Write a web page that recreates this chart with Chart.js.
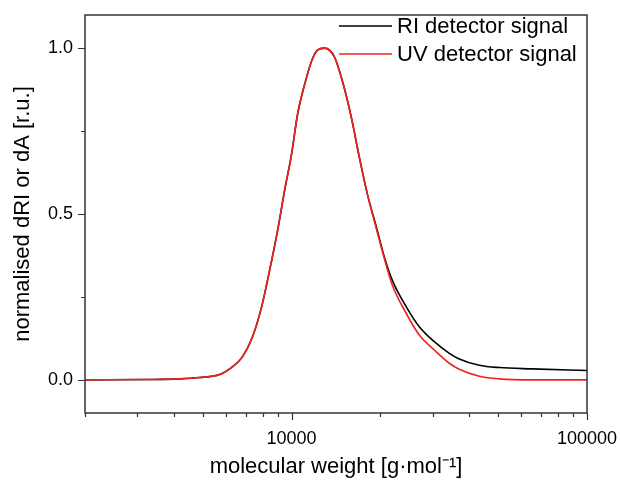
<!DOCTYPE html>
<html>
<head>
<meta charset="utf-8">
<script src="https://cdn.jsdelivr.net/npm/chart.js@4/dist/chart.umd.min.js"></script>
<style>
  html, body { margin: 0; padding: 0; background: #fff; }
  #wrap { width: 620px; height: 481px; }
</style>
</head>
<body>
<div id="wrap"><canvas id="gpcChart" width="620" height="481"></canvas></div>
<script>
// molecular weight (g/mol)
const molWeight = [2000, 3300, 4180, 4890, 5710, 6320, 6830, 7380, 7920, 8430, 8970, 9470, 10000, 10480, 11070, 11680, 12240, 12930, 13980, 14870, 15950, 16970, 18060, 19380, 20620, 21940, 24460, 27060, 30420, 34200, 36950, 43170, 50440, 65200, 100000];
const riSignal  = [0, 0.001, 0.003, 0.007, 0.016, 0.04, 0.07, 0.13, 0.22, 0.33, 0.45, 0.57, 0.68, 0.80, 0.89, 0.96, 0.994, 1.0, 0.973, 0.90, 0.79, 0.67, 0.56, 0.46, 0.37, 0.30, 0.22, 0.16, 0.115, 0.08, 0.063, 0.044, 0.037, 0.033, 0.028];
const uvSignal  = [0, 0.001, 0.003, 0.007, 0.016, 0.04, 0.07, 0.13, 0.22, 0.33, 0.45, 0.57, 0.68, 0.80, 0.89, 0.96, 0.994, 1.0, 0.973, 0.90, 0.79, 0.67, 0.56, 0.455, 0.365, 0.285, 0.20, 0.135, 0.09, 0.05, 0.032, 0.011, 0.003, 0, 0];

const xMajor = [10000, 100000];
const xMinor = [2000, 3000, 4000, 5000, 6000, 7000, 8000, 9000, 20000, 30000, 40000, 50000, 60000, 70000, 80000, 90000];
const yMajor = [0, 0.5, 1.0];
const yMinor = [0.25, 0.75];

const legendItems = [
    { label: 'RI detector signal', color: '#000000' },
    { label: 'UV detector signal', color: '#ee2222' }
];

const FONT = "'Liberation Sans', Arial, sans-serif";

function toPoints(ys) {
    return molWeight.map((x, i) => ({ x: x, y: ys[i] }));
}

// box, tick marks and legend drawn on top
const framePlugin = {
    id: 'frame',
    afterDraw(chart) {
        const ctx = chart.ctx;
        const a = chart.chartArea;
        const xs = chart.scales.x, ys = chart.scales.y;
        ctx.save();
        ctx.strokeStyle = '#333';
        ctx.lineWidth = 1.5;
        ctx.strokeRect(a.left, a.top, a.right - a.left, a.bottom - a.top);

        ctx.lineWidth = 1.2;
        ctx.beginPath();
        xMajor.concat(xMinor).forEach(v => {
            const px = Math.round(xs.getPixelForValue(v)) + 0.5;
            const len = xMajor.includes(v) ? 7 : 4;
            ctx.moveTo(px, a.bottom);
            ctx.lineTo(px, a.bottom + len);
        });
        yMajor.concat(yMinor).forEach(v => {
            const py = Math.round(ys.getPixelForValue(v)) + 0.5;
            const len = yMajor.includes(v) ? 7 : 4;
            ctx.moveTo(a.left, py);
            ctx.lineTo(a.left - len, py);
        });
        ctx.stroke();

        // legend
        ctx.font = '22px ' + FONT;
        ctx.textBaseline = 'middle';
        ctx.textAlign = 'left';
        legendItems.forEach((item, i) => {
            const y = 26 + i * 28;
            ctx.strokeStyle = item.color;
            ctx.lineWidth = 1.5;
            ctx.beginPath();
            ctx.moveTo(339, y);
            ctx.lineTo(392, y);
            ctx.stroke();
            ctx.fillStyle = '#000';
            ctx.fillText(item.label, 397, y + 1);
        });
        ctx.restore();
    }
};

new Chart(document.getElementById('gpcChart'), {
    type: 'line',
    data: {
        datasets: [
            {
                label: legendItems[0].label,
                data: toPoints(riSignal),
                borderColor: legendItems[0].color,
                borderWidth: 1.6,
                pointRadius: 0,
                cubicInterpolationMode: 'monotone',
                fill: false,
                order: 1
            },
            {
                label: legendItems[1].label,
                data: toPoints(uvSignal),
                borderColor: legendItems[1].color,
                borderWidth: 1.6,
                pointRadius: 0,
                cubicInterpolationMode: 'monotone',
                fill: false,
                order: 0   // red drawn over black, as in the original
            }
        ]
    },
    options: {
        responsive: false,
        animation: false,
        layout: { padding: { left: 0, right: 33, top: 15, bottom: 0 } },
        plugins: {
            legend: { display: false },
            tooltip: { enabled: false }
        },
        scales: {
            x: {
                type: 'logarithmic',
                min: 2000,
                max: 100000,
                grid: { display: false, drawTicks: false },
                border: { display: false },
                afterBuildTicks: scale => {
                    scale.ticks = xMinor.concat(xMajor).sort((p, q) => p - q).map(v => ({ value: v }));
                },
                afterFit: scale => {
                    scale.height = 68;
                    scale.paddingLeft = 0;
                    scale.paddingRight = 0;
                },
                ticks: {
                    autoSkip: false,
                    maxRotation: 0,
                    padding: 15,
                    color: '#000',
                    font: { family: FONT, size: 18 },
                    callback: v => xMajor.includes(v) ? String(v) : ''
                },
                title: {
                    display: true,
                    text: 'molecular weight [g·mol⁻¹]',
                    color: '#000',
                    font: { family: FONT, size: 22 },
                    padding: { top: 0, bottom: 1 }
                }
            },
            y: {
                min: -0.1,
                max: 1.1,
                grid: { display: false, drawTicks: false },
                border: { display: false },
                afterBuildTicks: scale => {
                    scale.ticks = yMajor.concat(yMinor).sort((p, q) => p - q).map(v => ({ value: v }));
                },
                afterFit: scale => {
                    scale.width = 85;
                    scale.paddingTop = 0;
                    scale.paddingBottom = 0;
                },
                ticks: {
                    padding: 12,
                    color: '#000',
                    font: { family: FONT, size: 18 },
                    callback: v => yMajor.includes(v) ? v.toFixed(1) : ''
                },
                title: {
                    display: true,
                    text: 'normalised dRI or dA [r.u.]',
                    color: '#000',
                    font: { family: FONT, size: 22 },
                    padding: { top: 10, bottom: 0 }
                }
            }
        }
    },
    plugins: [framePlugin]
});
</script>
</body>
</html>
